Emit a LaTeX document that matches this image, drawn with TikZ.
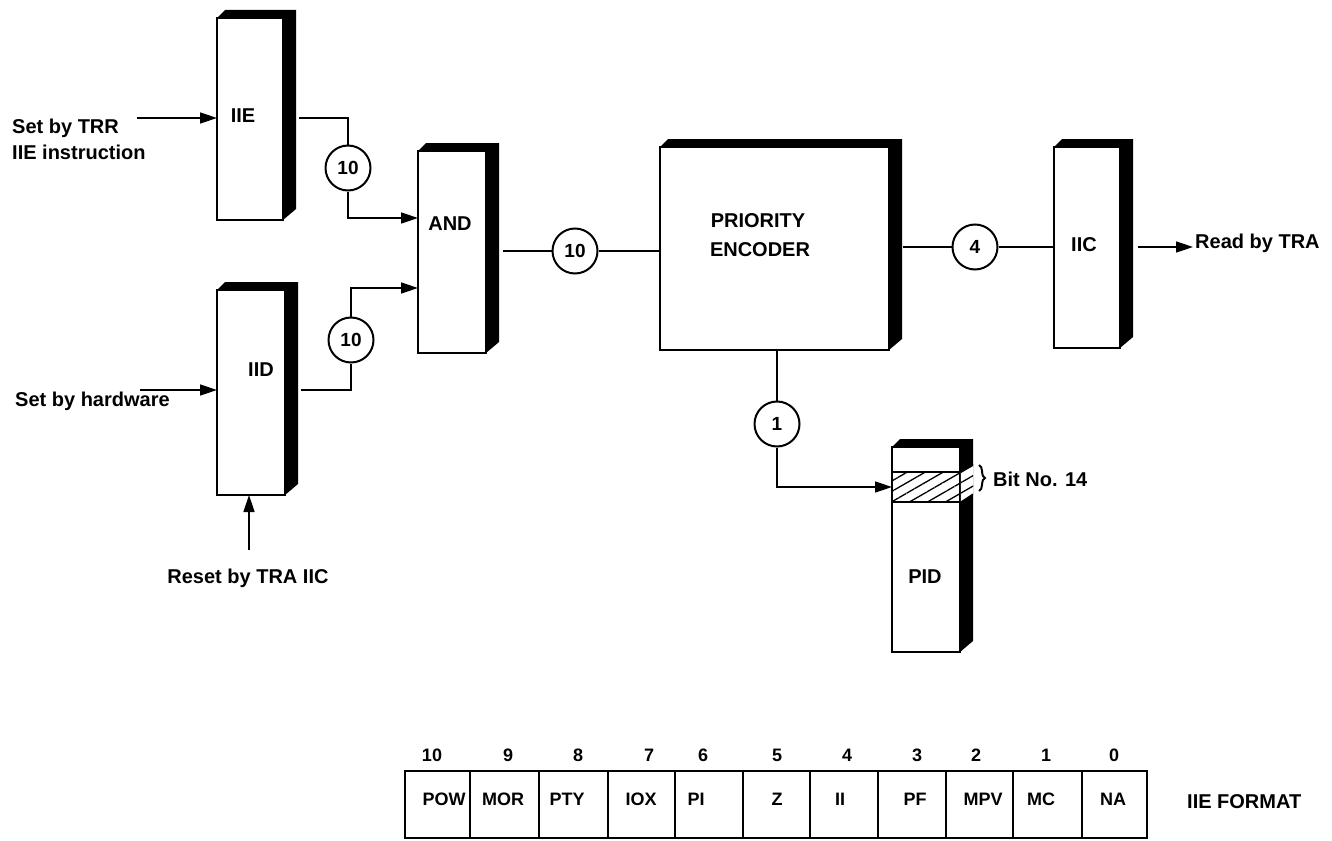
\documentclass[tikz,border=0pt]{standalone}
\usepackage{fontspec}
\setmainfont{Liberation Sans}
\usetikzlibrary{arrows.meta,calc,patterns.meta,decorations.pathreplacing}
\newcommand\regshade[1]{%
  \fill (#1.north west) -- ++(8,-8) -- ($(#1.north east)+(13,-8)$)
        -- ($(#1.south east)+(13,-11)$) -- (#1.south east) -- (#1.north east) -- cycle;}
\begin{document}
\begin{tikzpicture}[x=1pt,y=-1pt,
  regbox/.style={draw,line width=1.8pt,fill=white,inner sep=0,outer sep=0},
  tag/.style={circle,draw,line width=2pt,minimum size=45pt,inner sep=0,fill=white,
              font=\fontsize{19}{22}\selectfont\bfseries},
  lbl/.style={inner sep=0,font=\fontsize{20}{24}\selectfont\bfseries},
  cell/.style={inner sep=0,anchor=base,font=\fontsize{18}{22}\selectfont\bfseries},
  wire/.style={line width=1.5pt},
  arr/.style={wire,-{Triangle[length=17pt,width=11pt]}}]
\useasboundingbox (0,0) rectangle (1332,840);
\fill[white] (0,0) rectangle (1332,840);

% ---------- register boxes ----------
\node[regbox,minimum width=66pt,minimum height=202pt] (iie) at (250,119) {};
\regshade{iie}
\node[regbox,minimum width=68pt,minimum height=205pt] (iid) at (251,392.5) {};
\regshade{iid}
\node[regbox,minimum width=68pt,minimum height=202pt] (and) at (452,252) {};
\regshade{and}
\node[regbox,minimum width=229pt,minimum height=203pt] (pe) at (774.5,248.5) {};
\regshade{pe}
\node[regbox,minimum width=66pt,minimum height=201pt] (iic) at (1087,247.5) {};
\regshade{iic}
\node[regbox,minimum width=68pt,minimum height=205pt] (pid) at (926,549.5) {};
\regshade{pid}

% hatched bit 14 of PID
\node[draw,line width=1.5pt,inner sep=0,outer sep=0,minimum width=68pt,minimum height=30pt,
      fill=white,postaction={pattern={Lines[angle=30,distance=9pt,line width=1.3pt]}}]
      (bit) at (926,487) {};
\fill[white] (960.9,472) -- (973,464) -- (973,494) -- (960.9,502) -- cycle;
\fill[pattern={Lines[angle=30,distance=9pt,line width=1.3pt]}]
      (960.9,472) -- (973,464) -- (973,494) -- (960.9,502) -- cycle;
\draw[line width=1.2pt] (960.9,472) -- (973,464) (973,494) -- (960.9,502);

% ---------- box labels ----------
\node[lbl,anchor=base] (tiie) at (243,122) {IIE};
\node[lbl,anchor=base] (tiid) at (261,376) {IID};
\node[lbl,anchor=base] (tand) at (450,230) {AND};
\node[lbl,anchor=base] (tpe1) at (758,227) {PRIORITY};
\node[lbl,anchor=base] (tpe2) at (760,256) {ENCODER};
\node[lbl,anchor=base] (tiic) at (1084,251) {IIC};
\node[lbl,anchor=base] (tpid) at (925,583) {PID};

% ---------- width tags ----------
\node[tag] (c1) at (348,168) {10};
\node[tag] (c2) at (351,340) {10};
\node[tag] (c3) at (575,251) {10};
\node[tag] (c4) at (975,247) {4};
\node[tag] (c5) at (777,424) {1};

% ---------- inputs ----------
\coordinate (in1) at (137,118);
\draw[arr] (in1) -- (iie.west |- in1);
\node[lbl,anchor=base west] (s1) at (12,133) {Set by TRR};
\node[lbl,anchor=base west] (s2) at (12,159) {IIE instruction};

\coordinate (in2) at (140,390);
\node[lbl,anchor=base west] (s3) at (15,406) {Set by hardware};
\draw[arr] (in2) -- (iid.west |- in2);

\coordinate (in3) at (249,550);
\draw[arr] (in3) -- (in3 |- iid.south);
\node[lbl,anchor=base] (s4) at (248,583) {Reset by TRA IIC};

% ---------- connections ----------
\draw[wire] ($(iie.east)+(16,-1)$) -| (c1.north);
\draw[arr] (c1.south) |- ([yshift=34pt]and.west);
\draw[wire] ($(iid.east)+(16,-2.5)$) -| (c2.south);
\draw[arr] (c2.north) |- ([yshift=-36pt]and.west);
\draw[wire] ($(c3.west -| and.east)+(17,0)$) -- (c3.west);
\draw[wire] (c3.east) -- (pe.west |- c3);
\draw[wire] ($(c4.west -| pe.east)+(14,0)$) -- (c4.west);
\draw[wire] (c4.east) -- (iic.west |- c4);
\coordinate (out1) at (1193,247);
\draw[arr] (out1 -| iic.east) ++(18,0) -- (out1);
\node[lbl,anchor=base west] (rd) at (1195,248) {Read by TRA};
\draw[wire] (pe.south -| c5) -- (c5.north);
\draw[arr] (c5.south) |- (bit.west);

% bit 14 marker
\draw[line width=2pt,decorate,decoration={brace,amplitude=6pt}] (979,465) -- (979,491);
\node[lbl,anchor=base west] (bitno) at (993,486) {Bit No. 14};

% ---------- IIE format ----------
\draw[line width=1.8pt] (405,771) rectangle (1147,838);
\foreach \xx in {470,539,608,675,743,810,878,946,1013,1082}
  \draw[line width=1.8pt] (\xx,771) -- (\xx,838);
\foreach \xx/\nn in {432/10,508/9,578/8,649/7,703/6,777/5,847/4,917/3,976/2,1046/1,1114/0}
  \node[cell] (n\nn) at (\xx,761) {\nn};
\node[cell] (f10) at (444,805) {POW};
\node[cell] (f9) at (503,805) {MOR};
\node[cell] (f8) at (567,805) {PTY};
\node[cell] (f7) at (641,805) {IOX};
\node[cell] (f6) at (696,805) {PI};
\node[cell] (f5) at (777,805) {Z};
\node[cell] (f4) at (840,805) {II};
\node[cell] (f3) at (915,805) {PF};
\node[cell] (f2) at (983,805) {MPV};
\node[cell] (f1) at (1041,805) {MC};
\node[cell] (f0) at (1113,805) {NA};
\node[lbl,anchor=base west] (fmt) at (1187,808) {IIE FORMAT};
\end{tikzpicture}
\end{document}
